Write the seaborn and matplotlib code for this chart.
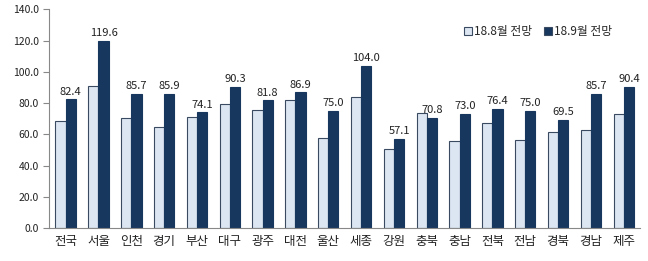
import matplotlib
matplotlib.use("Agg")
import matplotlib.pyplot as plt
import seaborn as sns
import pandas as pd
import numpy as np

regions = ["전국", "서울", "인천", "경기", "부산", "대구", "광주", "대전", "울산",
           "세종", "강원", "충북", "충남", "전북", "전남", "경북", "경남", "제주"]
aug = [68.8, 91.0, 70.3, 65.0, 71.0, 79.3, 75.6, 82.0, 57.9,
       84.0, 50.5, 73.5, 55.8, 67.3, 56.5, 61.4, 63.1, 73.3]
sep = [82.4, 119.6, 85.7, 85.9, 74.1, 90.3, 81.8, 86.9, 75.0,
       104.0, 57.1, 70.8, 73.0, 76.4, 75.0, 69.5, 85.7, 90.4]
series = ["18.8월 전망", "18.9월 전망"]
yticks = [0, 20, 40, 60, 80, 100, 120, 140]

df = pd.DataFrame({
    "region": regions * 2,
    "value": aug + sep,
    "series": [series[0]] * len(regions) + [series[1]] * len(regions),
})

sns.set_theme(style="white")
plt.rcParams['font.family'] = ['Noto Sans CJK KR', 'DejaVu Sans']

fig = plt.figure(figsize=(6.48, 2.61), dpi=100)
ax = fig.add_axes([0.076, 0.126, 0.912, 0.838])

light = "#dce6f2"
dark = "#17375e"
sns.barplot(data=df, x="region", y="value", hue="series", order=regions,
            hue_order=series, palette=[light, dark], width=0.62, saturation=1,
            ax=ax, legend=True, linewidth=0.8)

for patch in ax.containers[0]:
    patch.set_edgecolor("#3a4a60")
for patch in ax.containers[1]:
    patch.set_edgecolor(dark)

ax.bar_label(ax.containers[1], labels=[f"{v:.1f}" for v in sep],
             padding=2, fontsize=8, color="#222222")

ax.set_xlim(-0.5, len(regions) - 0.5)
ax.set_ylim(0, 140)
ax.set_yticks(yticks)
ax.set_yticklabels([f"{v:.1f}" for v in yticks], fontsize=7.5, color="#222222")
ax.set_xlabel("")
ax.set_ylabel("")
ax.tick_params(axis="x", length=0, labelsize=9, pad=5, colors="#222222")
ax.set_xticks(np.arange(-0.5, len(regions), 1.0), minor=True)
ax.tick_params(axis="x", which="minor", length=4, color="#888888", width=0.8, direction="out")
ax.tick_params(axis="y", length=4, color="#888888", width=0.8, direction="out", left=True)

for s in ["top", "right"]:
    ax.spines[s].set_visible(False)
for s in ["left", "bottom"]:
    ax.spines[s].set_color("#888888")
    ax.spines[s].set_linewidth(0.8)

leg = ax.legend(loc="center left", bbox_to_anchor=(0.707, 0.88), bbox_transform=fig.transFigure,
                ncol=2, frameon=False, fontsize=8.5, handlelength=0.65, handleheight=0.65,
                handletextpad=0.2, columnspacing=1.0, borderpad=0.0)
for h in leg.legend_handles:
    h.set_edgecolor("#3a4a60")

fig.savefig("out.png", dpi=100)
